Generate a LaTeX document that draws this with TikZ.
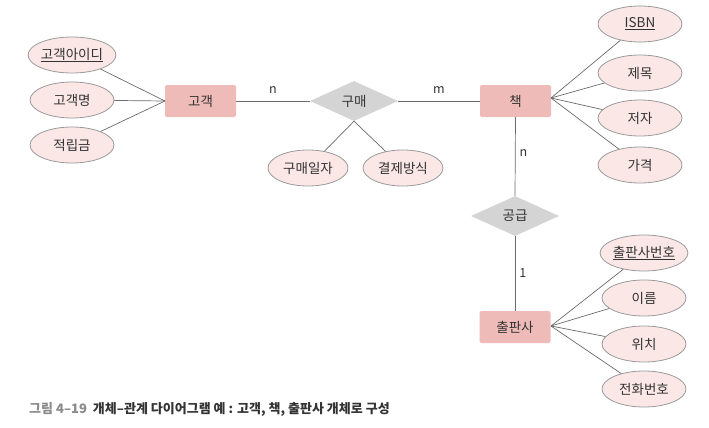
\documentclass[tikz,border=0pt]{standalone}
\usepackage{fontspec}
\setmainfont{Noto Sans CJK KR}
\usetikzlibrary{shapes.geometric}
\definecolor{entfill}{HTML}{EFBBB8}
\definecolor{attfill}{HTML}{FBE7E6}
\definecolor{attline}{HTML}{9A9A9A}
\definecolor{relfill}{HTML}{D4D4D4}
\definecolor{conn}{HTML}{6A6A6A}
\definecolor{txt}{HTML}{333333}
\definecolor{capgrey}{HTML}{8A8A8A}
\begin{document}
\begin{tikzpicture}[x=1pt,y=-1pt,
  every node/.style={font=\fontsize{13.5}{15}\selectfont, text=txt},
  entity/.style={rectangle, rounded corners=2pt, fill=entfill, minimum width=71pt, minimum height=32pt, inner sep=0pt},
  attr/.style={ellipse, fill=attfill, draw=attline, line width=0.8pt, minimum width=84pt, minimum height=36pt, inner sep=0pt},
  rel/.style={diamond, fill=relfill, minimum width=88pt, minimum height=40pt, inner sep=0pt},
  link/.style={draw=conn, line width=0.7pt},
  card/.style={font=\fontsize{12.5}{14}\selectfont, text=txt, inner sep=0pt}
]
\useasboundingbox (0,0) rectangle (709,428);

% entities
\node[entity] (cust) at (200.5,101) {고객};
\node[entity] (book) at (515.5,101) {책};
\node[entity] (pub) at (515,327) {출판사};

% relationships
\node[rel] (buy) at (354,101) {구매};
\node[rel] (supply) at (515,216) {공급};

% customer attributes
\node[attr] (cid) at (72,55) {\underline{고객아이디}};
\node[attr] (cname) at (72,100) {고객명};
\node[attr] (cpt) at (72,145) {적립금};

% buy attributes
\node[attr, minimum width=80pt] (bdate) at (308,168) {구매일자};
\node[attr, minimum width=80pt] (bpay) at (403,168) {결제방식};

% book attributes
\node[attr] (isbn) at (640,24) {\underline{ISBN}};
\node[attr] (title) at (640,73) {제목};
\node[attr] (author) at (640,118) {저자};
\node[attr] (price) at (640,165) {가격};

% publisher attributes
\node[attr] (pno) at (644,253) {\underline{출판사번호}};
\node[attr] (pname) at (644,298) {이름};
\node[attr] (ploc) at (644,344) {위치};
\node[attr] (ptel) at (644,389) {전화번호};

\coordinate (custL) at (165,101);
\coordinate (bookR) at (551,98);
\coordinate (pubR) at (551,326);

% connectors
\draw[link] (cust.east) -- node[card, above=7pt, pos=0.5] {n} (buy.west);
\draw[link] (buy.east) -- node[card, above=7pt, pos=0.5] {m} (book.west);
\draw[link] (book.south) -- node[card, right=4pt, pos=0.45] {n} (supply.north);
\draw[link] (supply.south) -- node[card, right=4pt, pos=0.5] {1} (pub.north);

\draw[link] (custL) -- (cid);
\draw[link] (custL) -- (cname);
\draw[link] (custL) -- (cpt);

\draw[link] (buy.south) -- (bdate);
\draw[link] (buy.south) -- (bpay);

\draw[link] (bookR) -- (isbn);
\draw[link] (bookR) -- (title);
\draw[link] (bookR) -- (author);
\draw[link] (bookR) -- (price);

\draw[link] (pubR) -- (pno);
\draw[link] (pubR) -- (pname);
\draw[link] (pubR) -- (ploc);
\draw[link] (pubR) -- (ptel);

% caption
\node[anchor=west, inner sep=0pt, font=\fontsize{13}{15}\selectfont\bfseries] (cap) at (29,409)
  {\textcolor{capgrey}{그림 4–19}\hspace{6pt}개체–관계 다이어그램 예 : 고객, 책, 출판사 개체로 구성};
\end{tikzpicture}
\end{document}
